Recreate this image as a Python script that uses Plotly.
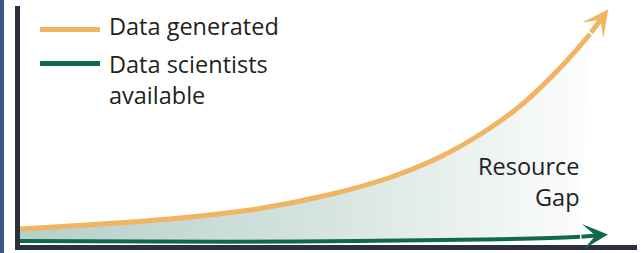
import plotly.graph_objects as go

# ---- data (schematic units) ----
series_names = ["Data generated", "Data scientists<br>available"]
gap_label = "Resource<br>Gap"

gen_x = [0, 12.97, 25.93, 38.90, 50.24, 59.97, 68.07, 74.55, 81.04, 87.52,
         92.38, 95.35]
gen_y = [6.69, 8.79, 11.30, 15.27, 21.13, 28.24, 36.82, 46.23, 58.16, 74.06,
         88.28, 98.62]

sci_x = [0, 21.07, 45.38, 61.59, 74.55, 85.90, 90.76, 95.30]
sci_y = [1.67, 1.46, 1.46, 1.88, 2.30, 2.93, 3.43, 4.39]

# ---- styles ----
ORANGE = "#f0b463"
GREEN = "#0f6a4b"
AXIS = "#2a303c"
BAR = "#3d5686"
TEXT = "#231f20"
FONT = "Open Sans"
FSIZE = 23.5

fig = go.Figure()

# green line (drawn up to the arrow base)
fig.add_trace(go.Scatter(
    x=sci_x[:-1], y=sci_y[:-1], mode="lines", name=series_names[1],
    line=dict(color=GREEN, width=4, shape="spline", smoothing=1.3), showlegend=False,
    hoverinfo="skip"))

# orange line with gradient fill down to green line
fig.add_trace(go.Scatter(
    x=gen_x[:-1], y=gen_y[:-1], mode="lines", name=series_names[0],
    line=dict(color=ORANGE, width=5, shape="spline", smoothing=1.3), showlegend=False,
    fill="tonexty",
    fillgradient=dict(type="horizontal", start=0, stop=95,
                      colorscale=[[0, "#b5d0c9"], [0.5, "#d4e3df"], [1, "#ffffff"]]),
    hoverinfo="skip"))

annotations = []
# arrow heads at the ends of both series
for xs, ys, col, w, sz in [(gen_x, gen_y, ORANGE, 5, 0.87), (sci_x, sci_y, GREEN, 4, 1.05)]:
    annotations.append(dict(
        x=xs[-1], y=ys[-1], ax=xs[-2], ay=ys[-2], xref="x", yref="y",
        axref="x", ayref="y", text="", showarrow=True, arrowhead=3,
        arrowsize=sz, arrowwidth=w, arrowcolor=col))

# custom legend text
annotations.append(dict(x=0.141, y=0.916, xref="paper", yref="paper",
                        text=series_names[0], showarrow=False, xanchor="left",
                        yanchor="middle", align="left",
                        font=dict(family=FONT, size=FSIZE, color=TEXT)))
annotations.append(dict(x=0.141, y=0.694, xref="paper", yref="paper",
                        text=series_names[1], showarrow=False, xanchor="left",
                        yanchor="middle", align="left",
                        font=dict(family=FONT, size=FSIZE, color=TEXT)))
annotations.append(dict(x=0.9109, y=0.2657, xref="paper", yref="paper",
                        text=gap_label, showarrow=False, xanchor="right",
                        yanchor="middle", align="right",
                        font=dict(family=FONT, size=FSIZE, color=TEXT)))

shapes = [
    # left dark-blue edge bar
    dict(type="rect", xref="paper", yref="paper", xsizemode="pixel", xanchor=0,
         x0=-20, x1=-16, y0=-0.05, y1=1.05, fillcolor=BAR, line_width=0,
         layer="below"),
    # legend samples
    dict(type="line", xref="paper", yref="paper", x0=0.0324, x1=0.1297,
         y0=0.9017, y1=0.9017, line=dict(color=ORANGE, width=5)),
    dict(type="line", xref="paper", yref="paper", x0=0.0324, x1=0.1297,
         y0=0.7594, y1=0.7594, line=dict(color=GREEN, width=5)),
]

fig.update_layout(
    width=641, height=253,
    margin=dict(l=20, r=4, t=6, b=8),
    paper_bgcolor="white", plot_bgcolor="white",
    xaxis=dict(range=[0, 100], showgrid=False, zeroline=False, showticklabels=False,
               ticks="", showline=True, linewidth=5, linecolor=AXIS, fixedrange=True),
    yaxis=dict(range=[0, 100], showgrid=False, zeroline=False, showticklabels=False,
               ticks="", showline=True, linewidth=5, linecolor=AXIS, fixedrange=True),
    annotations=annotations, shapes=shapes, showlegend=False,
)

fig.write_html("out.html", config={"displayModeBar": False},
               post_script="document.body.style.margin='0';")
